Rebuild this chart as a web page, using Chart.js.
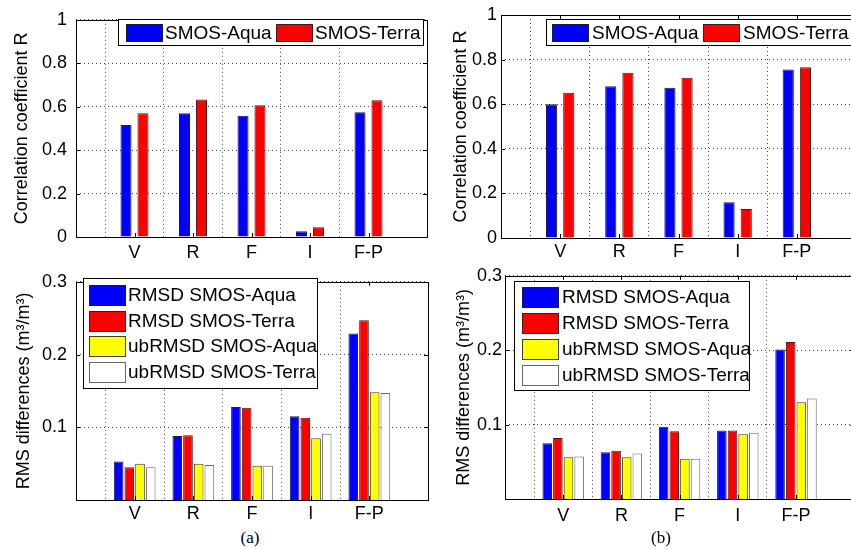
<!DOCTYPE html>
<html><head><meta charset="utf-8">
<script src="https://cdn.jsdelivr.net/npm/chart.js@4"></script>
<style>
html,body{margin:0;padding:0;overflow:hidden;background:#fff;width:851px;height:549px;position:relative;}
canvas{position:absolute;}
.cap{position:absolute;font-family:"Liberation Serif","Times New Roman",serif;font-size:17px;color:#000;transform:translate(-50%,-50%);white-space:nowrap;}
</style></head><body>
<canvas id="c1"></canvas>
<canvas id="c2"></canvas>
<canvas id="c3"></canvas>
<canvas id="c4"></canvas>
<div class="cap" style="left:250px;top:538px">(a)</div>
<div class="cap" style="left:661px;top:538px">(b)</div>
<script>
const categories = ['V','R','F','I','F-P'];

const corrAquaA  = [0.516, 0.570, 0.558, 0.027, 0.574];
const corrTerraA = [0.570, 0.633, 0.607, 0.045, 0.630];
const corrAquaB  = [0.600, 0.681, 0.674, 0.160, 0.756];
const corrTerraB = [0.651, 0.741, 0.719, 0.130, 0.766];

const rmsdAquaA    = [0.053, 0.088, 0.128, 0.115, 0.229];
const rmsdTerraA   = [0.045, 0.089, 0.127, 0.113, 0.247];
const ubrmsdAquaA  = [0.050, 0.050, 0.047, 0.085, 0.148];
const ubrmsdTerraA = [0.045, 0.048, 0.047, 0.091, 0.147];

const rmsdAquaB    = [0.075, 0.063, 0.097, 0.092, 0.201];
const rmsdTerraB   = [0.082, 0.065, 0.091, 0.092, 0.211];
const ubrmsdAquaB  = [0.056, 0.056, 0.054, 0.087, 0.130];
const ubrmsdTerraB = [0.057, 0.061, 0.054, 0.089, 0.135];

const corrTicks = [0, 0.2, 0.4, 0.6, 0.8, 1];
const rmsTicks  = [0.1, 0.2, 0.3];

const FONT = '"Liberation Sans", Arial, Helvetica, sans-serif';
const xLabels = ['', ...categories, ''];
const pad = arr => [null, ...arr, null];

const COLORS = {
  aqua:  {bg:'#0000ff', bd:'#1a1a40'},
  terra: {bg:'#ff0000', bd:'#401a1a'},
  ubAqua:{bg:'#ffff00', bd:'#404020'},
  ubTerra:{bg:'#ffffff', bd:'#666666'}
};
function ds(label, arr, c){
  return {label, data:pad(arr), backgroundColor:c.bg, borderColor:c.bd, borderWidth:1, borderSkipped:'start'};
}

const frame = {
  id:'frame',
  afterDraw(chart, args, L){
    const {ctx, chartArea:a, scales:{x,y}} = chart;
    ctx.save();
    ctx.strokeStyle = '#000'; ctx.lineWidth = 1;
    ctx.beginPath();
    for (let i = 1; i <= categories.length; i++){
      const px = Math.round(x.getPixelForValue(i)) + 0.5;
      ctx.moveTo(px, a.bottom); ctx.lineTo(px, a.bottom - 4);
      ctx.moveTo(px, a.top); ctx.lineTo(px, a.top + 4);
    }
    y.ticks.forEach(t => {
      const py = Math.round(y.getPixelForValue(t.value)) + 0.5;
      ctx.moveTo(a.left, py); ctx.lineTo(a.left + 4, py);
      ctx.moveTo(a.right, py); ctx.lineTo(a.right - 4, py);
    });
    ctx.stroke();
    ctx.strokeRect(Math.round(a.left) + 0.5, Math.round(a.top) + 0.5, Math.round(a.right - a.left), Math.round(a.bottom - a.top));
    // legend
    ctx.fillStyle = '#fff'; ctx.fillRect(L.x, L.y, L.w, L.h);
    ctx.strokeStyle = '#000'; ctx.strokeRect(Math.round(L.x) + 0.5, Math.round(L.y) + 0.5, Math.round(L.w), Math.round(L.h));
    ctx.font = '19px ' + FONT; ctx.textBaseline = 'middle'; ctx.textAlign = 'left';
    chart.data.datasets.forEach((d, i) => {
      const sx = Math.round(L.sx + (L.dir === 'h' ? i * L.step : 0));
      const sy = Math.round(L.sy + (L.dir === 'v' ? i * L.step : 0));
      ctx.fillStyle = d.backgroundColor; ctx.fillRect(sx, sy, L.sw, L.sh);
      ctx.strokeStyle = d.borderColor; ctx.strokeRect(sx + 0.5, sy + 0.5, L.sw, L.sh);
      ctx.fillStyle = '#000'; ctx.fillText(d.label, sx + L.tx, sy + L.sh / 2 + 1);
    });
    ctx.restore();
  }
};

function makeChart(id, pos, datasets, yTicks, yMax, yTitle, lay, legend){
  const cv = document.getElementById(id);
  cv.width = pos.w; cv.height = pos.h;
  cv.style.left = pos.x + 'px'; cv.style.top = pos.y + 'px';
  return new Chart(cv, {
    type:'bar',
    data:{labels:xLabels, datasets},
    options:{
      responsive:false, animation:false, devicePixelRatio:1,
      layout:{padding:{left:0, top:lay.top, right:lay.right, bottom:0}},
      datasets:{bar:{categoryPercentage:lay.cat, barPercentage:lay.bar}},
      plugins:{legend:{display:false}, tooltip:{enabled:false}, frame:legend},
      scales:{
        x:{
          offset:false,
          grid:{color:c => (c.index === 0 || c.index === xLabels.length - 1) ? 'rgba(0,0,0,0)' : '#444', drawTicks:false, lineWidth:1},
          border:{display:false, dash:[1,3]},
          ticks:{font:{family:FONT, size:18}, color:'#000', padding:lay.xpad, maxRotation:0, autoSkip:false},
          afterFit(s){ s.height = lay.xh; }
        },
        y:{
          min:0, max:yMax,
          grid:{color:'#444', drawTicks:false, lineWidth:1},
          border:{display:false, dash:[1,3]},
          ticks:{font:{family:FONT, size:18}, color:'#000', padding:lay.ypad, callback:v => String(v)},
          afterBuildTicks(s){ s.ticks = yTicks.map(v => ({value:v})); },
          afterFit(s){ s.width = lay.yw; },
          title:{display:true, text:yTitle, font:{family:FONT, size:18}, color:'#000', padding:{top:lay.tpad, bottom:0}}
        }
      }
    },
    plugins:[frame]
  });
}

makeChart('c1', {x:0, y:0, w:432, h:262},
  [ds('SMOS-Aqua', corrAquaA, COLORS.aqua), ds('SMOS-Terra', corrTerraA, COLORS.terra)],
  corrTicks, 1, 'Correlation coefficient R',
  {top:15, right:4, yw:76, xh:25, tpad:11.2, ypad:9, xpad:5, cat:0.58, bar:0.65},
  {x:118, y:19, w:305, h:26, sx:126, sy:24, sw:36, sh:17, step:150, tx:39, dir:'h'});

makeChart('c2', {x:430, y:0, w:430, h:262},
  [ds('SMOS-Aqua', corrAquaB, COLORS.aqua), ds('SMOS-Terra', corrTerraB, COLORS.terra)],
  corrTicks, 1, 'Correlation coefficient R',
  {top:15, right:4, yw:71, xh:24, tpad:20.2, ypad:4, xpad:3, cat:0.58, bar:0.65},
  {x:115.7, y:19, w:320, h:26, sx:121.7, sy:24, sw:36, sh:17, step:151.3, tx:40, dir:'h'});

makeChart('c3', {x:0, y:262, w:432, h:262},
  [ds('RMSD SMOS-Aqua', rmsdAquaA, COLORS.aqua), ds('RMSD SMOS-Terra', rmsdTerraA, COLORS.terra),
   ds('ubRMSD SMOS-Aqua', ubrmsdAquaA, COLORS.ubAqua), ds('ubRMSD SMOS-Terra', ubrmsdTerraA, COLORS.ubTerra)],
  rmsTicks, 0.3, 'RMS differences (m³/m³)',
  {top:14, right:4, yw:76, xh:24, tpad:13.2, ypad:9, xpad:3.3, cat:0.73, bar:0.9},
  {x:83, y:16, w:234, h:110, sx:89, sy:23, sw:36, sh:20, step:25.6, tx:39, dir:'v'});

makeChart('c4', {x:430, y:262, w:430, h:262},
  [ds('RMSD SMOS-Aqua', rmsdAquaB, COLORS.aqua), ds('RMSD SMOS-Terra', rmsdTerraB, COLORS.terra),
   ds('ubRMSD SMOS-Aqua', ubrmsdAquaB, COLORS.ubAqua), ds('ubRMSD SMOS-Terra', ubrmsdTerraB, COLORS.ubTerra)],
  rmsTicks, 0.3, 'RMS differences (m³/m³)',
  {top:13, right:0, yw:75, xh:25, tpad:23.2, ypad:3, xpad:5.8, cat:0.73, bar:0.9},
  {x:84.3, y:19, w:234.7, h:109, sx:91.7, sy:24.7, sw:36, sh:20, step:26.1, tx:40, dir:'v'});
</script>
</body></html>
